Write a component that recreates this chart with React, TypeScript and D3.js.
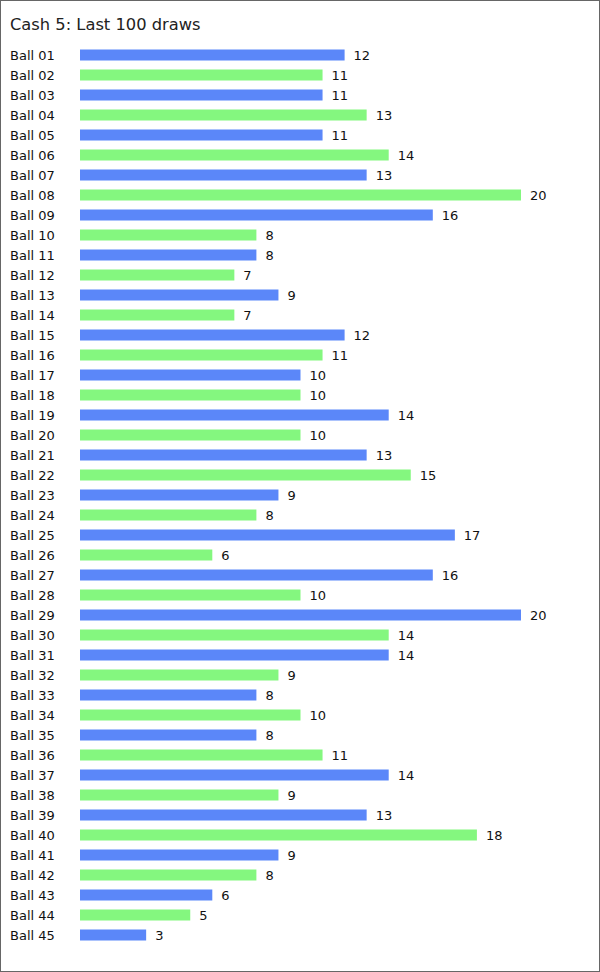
import React from "react";
import * as d3 from "d3";

const title = "Cash 5: Last 100 draws";
const balls = Array.from({ length: 45 }, (_, i) => `Ball ${String(i + 1).padStart(2, "0")}`);
const counts = [12, 11, 11, 13, 11, 14, 13, 20, 16, 8, 8, 7, 9, 7, 12, 11, 10, 10, 14, 10, 13, 15, 9, 8, 17, 6, 16, 10, 20, 14, 14, 9, 8, 10, 8, 11, 14, 9, 13, 18, 9, 8, 6, 5, 3];
const colors = ["#5b87f9", "#84f77f"];

const W = 600;
const H = 972;

export default function App() {
  const x = d3.scaleLinear().domain([0, 20]).range([80, 521]);
  const y = d3.scaleBand<string>().domain(balls).range([45, 945]).paddingInner(0.45).paddingOuter(0.225);
  const font = "DejaVu Sans, Verdana, sans-serif";
  return (
    <div style={{ position: "fixed", left: 0, top: 0 }}>
      <svg width={W} height={H} style={{ display: "block" }}>
        <rect x={0.5} y={0.5} width={W - 1} height={H - 1} fill="#fff" stroke="#666" />
        <text x={10} y={30} fontFamily={font} fontSize={16.3} fill="#222">{title}</text>
        {balls.map((b, i) => {
          const yy = y(b)!;
          const cy = yy + y.bandwidth() / 2;
          return (
            <g key={b}>
              <text x={10} y={cy + 4.5} fontFamily={font} fontSize={13} fill="#111">{b}</text>
              <rect x={x(0)} y={yy} width={x(counts[i]) - x(0)} height={y.bandwidth()} fill={colors[i % 2]} />
              <text x={x(counts[i]) + 9} y={cy + 4.5} fontFamily={font} fontSize={13} fill="#111">{counts[i]}</text>
            </g>
          );
        })}
      </svg>
    </div>
  );
}
